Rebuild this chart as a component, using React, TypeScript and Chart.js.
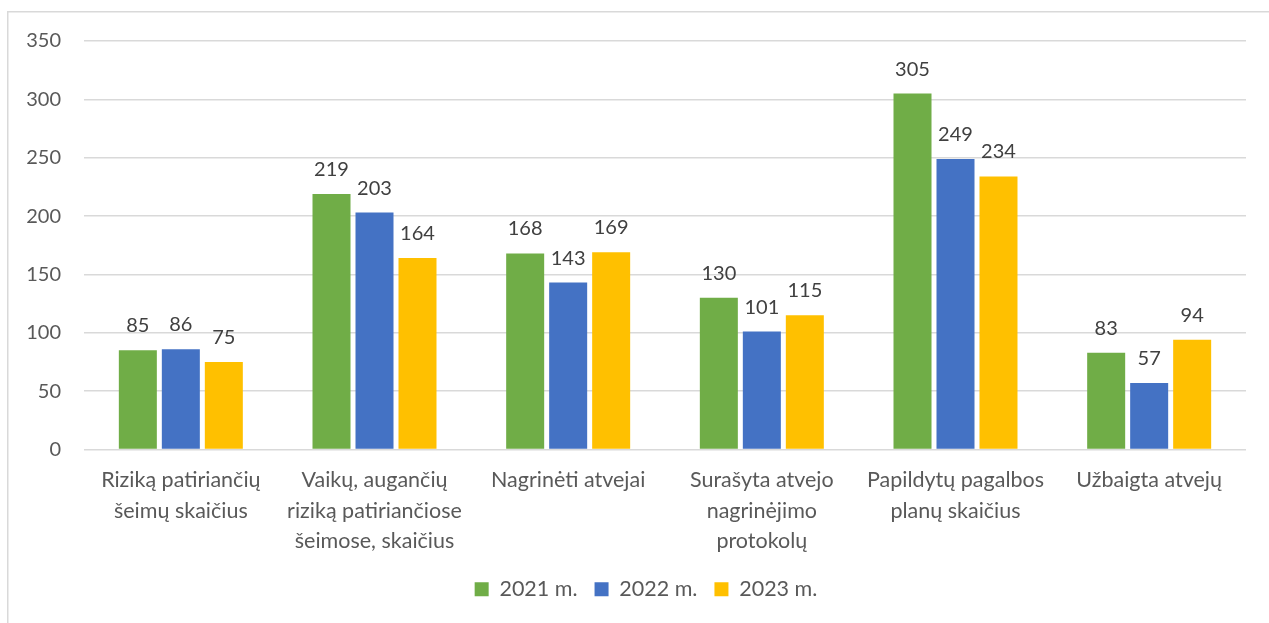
import React, { useEffect, useRef } from "react";
import { Chart, registerables } from "chart.js";

Chart.register(...registerables);

const categories: (string | string[])[] = [
  ["Riziką patiriančių", "šeimų skaičius"],
  ["Vaikų, augančių", "riziką patiriančiose", "šeimose, skaičius"],
  "Nagrinėti atvejai",
  ["Surašyta atvejo", "nagrinėjimo", "protokolų"],
  ["Papildytų pagalbos", "planų skaičius"],
  "Užbaigta atvejų",
];
const seriesNames = ["2021 m.", "2022 m.", "2023 m."];
const values2021 = [85, 219, 168, 130, 305, 83];
const values2022 = [86, 203, 143, 101, 249, 57];
const values2023 = [75, 164, 169, 115, 234, 94];
const seriesColors = ["#70AD47", "#4472C4", "#FFC000"];
const yTicks = [0, 50, 100, 150, 200, 250, 300, 350];

const FONT = "Lato, 'Open Sans', sans-serif";

const labelPlugin = {
  id: "barLabels",
  afterDatasetsDraw(chart: any) {
    const ctx = chart.ctx;
    ctx.save();
    ctx.font = `20px ${FONT}`;
    ctx.fillStyle = "#404040";
    ctx.textAlign = "center";
    ctx.textBaseline = "alphabetic";
    chart.data.datasets.forEach((ds: any, i: number) => {
      const meta = chart.getDatasetMeta(i);
      meta.data.forEach((el: any, j: number) => {
        ctx.fillText(String(ds.data[j]), el.x, el.y - 18);
      });
    });
    ctx.restore();
  },
};

const framePlugin = {
  id: "frame",
  afterLayout(chart: any) {
    if (chart.legend) {
      chart.legend.left += 23;
      chart.legend.right += 23;
    }
  },
  beforeDraw(chart: any) {
    const ctx = chart.ctx;
    ctx.save();
    ctx.fillStyle = "#ffffff";
    ctx.fillRect(0, 0, chart.width, chart.height);
    ctx.strokeStyle = "#D9D9D9";
    ctx.lineWidth = 1.5;
    ctx.beginPath();
    ctx.moveTo(7.75, chart.height);
    ctx.lineTo(7.75, 11.75);
    ctx.lineTo(chart.width, 11.75);
    ctx.stroke();
    ctx.restore();
  },
};

export default function App() {
  const ref = useRef<HTMLCanvasElement>(null);
  useEffect(() => {
    if (!ref.current) return;
    const chart = new Chart(ref.current, {
      type: "bar",
      data: {
        labels: categories,
        datasets: [values2021, values2022, values2023].map((d, i) => ({
          label: seriesNames[i],
          data: d,
          backgroundColor: seriesColors[i],
          borderWidth: 0,
          categoryPercentage: 0.666,
          barPercentage: 0.884,
        })),
      },
      options: {
        animation: false,
        responsive: true,
        maintainAspectRatio: false,
        devicePixelRatio: 1,
        layout: { padding: { top: 41, right: 23, bottom: 13, left: 0 } },
        plugins: {
          tooltip: { enabled: false },
          legend: {
            position: "bottom",
            labels: {
              boxWidth: 14,
              boxHeight: 14,
              padding: 17,
              color: "#595959",
              font: { family: FONT, size: 21.5 },
            },
          },
        },
        scales: {
          x: {
            grid: { display: false, drawTicks: false },
            border: { display: false },
            ticks: {
              color: "#595959",
              font: { family: FONT, size: 21.5, lineHeight: 1.4 },
              padding: 16,
              maxRotation: 0,
              autoSkip: false,
            },
            afterFit(scale: any) {
              scale.height = 112;
            },
          },
          y: {
            min: 0,
            max: 350,
            afterBuildTicks(scale: any) {
              scale.ticks = yTicks.map((v) => ({ value: v }));
            },
            grid: { color: "#D9D9D9", lineWidth: 1.5, drawTicks: false },
            border: { display: false },
            ticks: {
              color: "#595959",
              font: { family: FONT, size: 20 },
              padding: 23,
            },
            afterFit(scale: any) {
              scale.width = 84;
            },
          },
        },
      },
      plugins: [framePlugin, labelPlugin],
    });
    return () => chart.destroy();
  }, []);
  return (
    <div style={{ position: "fixed", left: 0, top: 0, width: 1269, height: 623 }}>
      <canvas ref={ref} />
    </div>
  );
}
